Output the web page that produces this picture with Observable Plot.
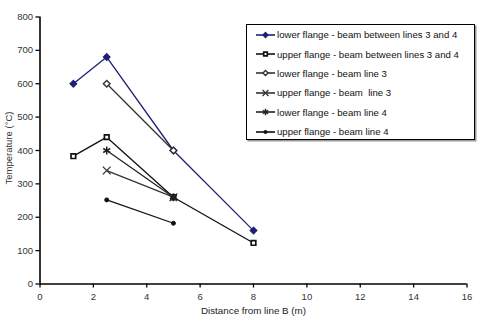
<!DOCTYPE html>
<html>
<head>
<meta charset="utf-8">
<script src="https://cdn.jsdelivr.net/npm/d3@7"></script>
<script src="https://cdn.jsdelivr.net/npm/@observablehq/plot@0.6"></script>
<style>
  html, body { margin: 0; padding: 0; background: #fff; }
  #wrap { position: relative; width: 499px; height: 325px; font-family: "Liberation Sans", Arial, sans-serif; }
  #legend { position: absolute; left: 246px; top: 24px; width: 229px; height: 116px; border: 1.5px solid #000; box-shadow: 1.5px 1.5px 0 #999; background: #fff; box-sizing: border-box; padding-top: 0px; }
  .row { display: flex; align-items: center; height: 19.4px; font-size: 9.6px; color: #111; white-space: pre; }
  .row svg { margin-left: 9px; margin-right: 2px; }
</style>
</head>
<body>
<div id="wrap"></div>
<script>
const seriesNames = [
  "lower flange - beam between lines 3 and 4",
  "upper flange - beam between lines 3 and 4",
  "lower flange - beam line 3",
  "upper flange - beam  line 3",
  "lower flange - beam line 4",
  "upper flange - beam line 4"
];
const xs1 = [1.25, 2.5, 5, 8];   const ys1 = [600, 680, 400, 160];
const xs2 = [1.25, 2.5, 5, 8];   const ys2 = [383, 440, 260, 123];
const xs3 = [2.5, 5];            const ys3 = [600, 400];
const xs4 = [2.5, 5];            const ys4 = [340, 260];
const xs5 = [2.5, 5];            const ys5 = [400, 260];
const xs6 = [2.5, 5];            const ys6 = [252, 182];
const xTicks = [0, 2, 4, 6, 8, 10, 12, 14, 16];
const yTicks = [0, 100, 200, 300, 400, 500, 600, 700, 800];

const styles = [
  {stroke: "#1f1f75", sym: d3.symbolDiamond2, fill: "#1f1f75", r: 3, sw: 1.2},
  {stroke: "#111", sym: d3.symbolSquare, fill: "white", r: 2.6, sw: 1.7},
  {stroke: "#333", sym: d3.symbolDiamond2, fill: "white", r: 3, sw: 1.4},
  {stroke: "#333", sym: d3.symbolTimes, fill: "none", r: 3.6, sw: 1.3},
  {stroke: "#222", sym: d3.symbolAsterisk, fill: "none", r: 3.8, sw: 1.5},
  {stroke: "#111", sym: d3.symbolCircle, fill: "#111", r: 2, sw: 1}
];
const xsAll = [xs1, xs2, xs3, xs4, xs5, xs6];
const ysAll = [ys1, ys2, ys3, ys4, ys5, ys6];
const data = xsAll.map((xs, i) => xs.map((x, j) => ({x, y: ysAll[i][j], s: i})));

const marks = [];
data.forEach((d, i) => {
  const st = styles[i];
  marks.push(Plot.line(d, {x: "x", y: "y", stroke: st.stroke, strokeWidth: 1.3}));
  marks.push(Plot.dot(d, {x: "x", y: "y", symbol: st.sym, stroke: st.stroke, fill: st.fill, strokeWidth: st.sw, r: st.r}));
});

const chart = Plot.plot({
  width: 499, height: 325,
  marginLeft: 39.5, marginRight: 32.5, marginTop: 16.5, marginBottom: 41.5,
  style: {fontFamily: "'Liberation Sans', Arial, sans-serif", fontSize: "9.5px", color: "#222", background: "white"},
  x: {domain: [0, 16], ticks: xTicks, label: null},
  y: {domain: [0, 800], ticks: yTicks, label: null},
  marks: [
    Plot.axisX({ticks: xTicks, tickSize: 4, tickPadding: 5, stroke: "#000", strokeWidth: 1.3, fill: "#333", fontSize: 9.5}),
    Plot.axisY({ticks: yTicks, tickSize: 4, tickPadding: 3, stroke: "#000", strokeWidth: 1.3, fill: "#333", fontSize: 9.5}),
    Plot.ruleX([0], {stroke: "#000", strokeWidth: 1.6}),
    Plot.ruleY([0], {stroke: "#000", strokeWidth: 1.6}),
    ...marks,
    Plot.text(["Distance from line B (m)"], {frameAnchor: "bottom", dy: 30, fontSize: 9.8, fill: "#222"}),
    Plot.text(["Temperature (°C)"], {frameAnchor: "left", dx: -31, dy: 34, rotate: -90, fontSize: 9.5, fill: "#333"})
  ]
});
const wrap = document.getElementById("wrap");
wrap.appendChild(chart);

// legend
const leg = document.createElement("div");
leg.id = "legend";
seriesNames.forEach((name, i) => {
  const st = styles[i];
  const row = document.createElement("div");
  row.className = "row";
  const path = d3.symbol(st.sym, Math.PI * st.r * st.r * 0.6)();
  row.innerHTML = `<svg width="19" height="10"><line x1="0" x2="19" y1="5" y2="5" stroke="${st.stroke}" stroke-width="1.6"/><path d="${path}" transform="translate(9.5,5)" fill="${st.fill}" stroke="${st.stroke}" stroke-width="${st.sw}"/></svg><span>${name}</span>`;
  leg.appendChild(row);
});
wrap.appendChild(leg);
</script>
</body>
</html>
